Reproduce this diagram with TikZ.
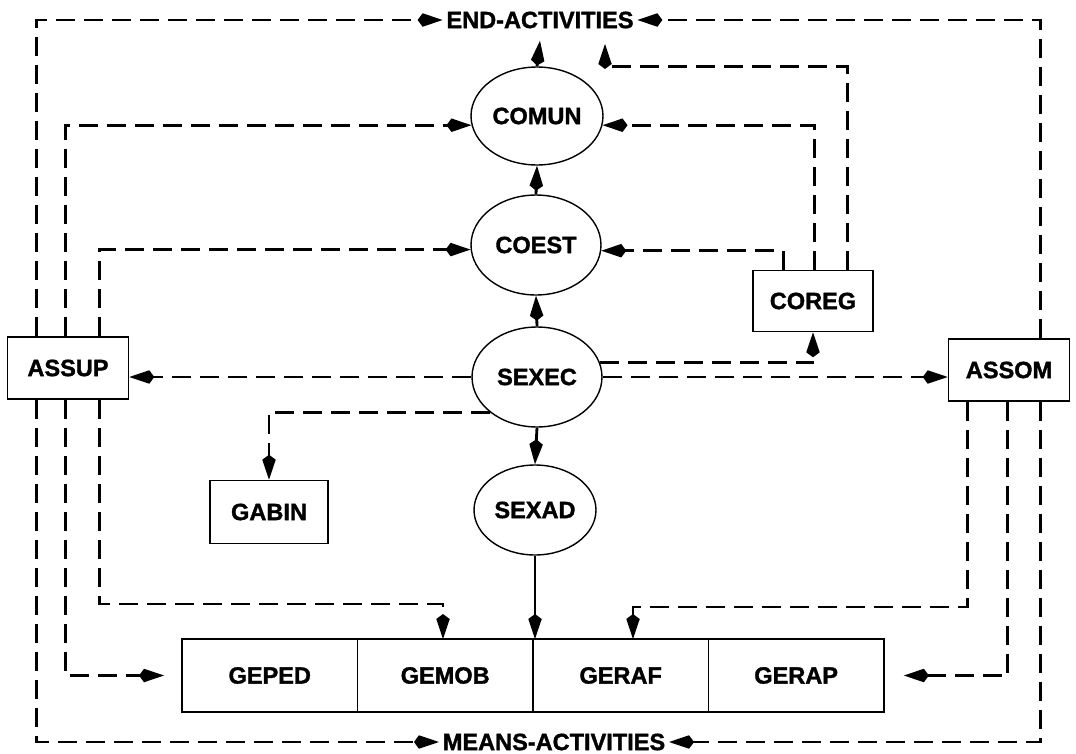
\documentclass[tikz,border=0pt]{standalone}
\usepackage{fontspec}
\setmainfont{Liberation Sans}[BoldFeatures={FakeBold=1.4}]
\usetikzlibrary{shapes.geometric, arrows.meta, positioning}
\tikzset{
  unitnode/.style={ellipse, draw, line width=0.8pt, inner sep=0pt, font=\bfseries\fontsize{13.4}{16}\selectfont},
  unitbox/.style={rectangle, draw, line width=0.9pt, minimum width=2.42cm, minimum height=1.24cm, font=\bfseries\fontsize{13.4}{16}\selectfont},
  rowbox/.style={rectangle, draw, line width=0.9pt, minimum width=3.51cm, minimum height=1.46cm, outer sep=0pt, font=\bfseries\fontsize{13.4}{16}\selectfont},
  levelnode/.style={inner xsep=2pt, inner ysep=0.24cm, font=\bfseries\fontsize{13.4}{16}\selectfont},
  arrow/.style={-{Kite[length=0.5cm, width=0.27cm, inset=0.1cm]}, line width=1.6pt},
  dashedarrow/.style={arrow, dash pattern=on 0.38cm off 0.18cm}
}
\begin{document}
\begin{tikzpicture}[x=0.02cm, y=-0.02cm]
  \useasboundingbox (0,0) rectangle (1076,754);

  \node[levelnode] (endact) at (540,20) {END-ACTIVITIES};
  \node[levelnode, inner ysep=2pt] (meansact) at (554,742) {MEANS-ACTIVITIES};

  \node[unitnode, minimum width=2.64cm, minimum height=1.96cm] (comun) at (537,116) {COMUN};
  \node[unitnode, minimum width=2.6cm, minimum height=2cm] (coest) at (536,245) {COEST};
  \node[unitnode, minimum width=2.6cm, minimum height=2cm] (sexec) at (537,377) {SEXEC};
  \node[unitnode, minimum width=2.44cm, minimum height=1.8cm] (sexad) at (535,510) {SEXAD};

  \node[unitbox, minimum width=2.4cm, minimum height=1.22cm] (coreg) at (813,301) {COREG};
  \node[unitbox] (assup) at (68,368) {ASSUP};
  \node[unitbox] (assom) at (1009,370) {ASSOM};
  \node[unitbox, minimum width=2.36cm, minimum height=1.26cm] (gabin) at (269,512) {GABIN};

  \node[rowbox] (geped) at (269.75,675.5) {GEPED};
  \node[rowbox, right=0pt of geped] (gemob) {GEMOB};
  \node[rowbox, right=0pt of gemob] (geraf) {GERAF};
  \node[rowbox, right=0pt of geraf] (gerap) {GERAP};

  \coordinate (endin) at (605,44);
  \coordinate (gemobin) at (443,604);
  \coordinate (gerafin) at (633,607);

  \draw[arrow] (comun.north) -- (endact.south);
  \draw[arrow] (coest.north) -- (comun.south);
  \draw[arrow] (sexec.north) -- (coest.south);
  \draw[arrow] (sexec.south) -- (sexad.north);
  \draw[arrow] (sexad.south) -- (sexad.south |- gemob.north east);

  \draw[dashedarrow] (assup.north west) ++(30,0) |- (endact.west);
  \draw[dashedarrow] (assup.north west) ++(59,0) |- (comun.188);
  \draw[dashedarrow] (assup.north west) ++(93,0) |- (coest.184);
  \draw[dashedarrow] (assom.north west) ++(93,0) |- (endact.east);

  \draw[dashedarrow] (coreg.north west) ++(95,0) |- (endin |- comun.north) -- (endin);
  \draw[dashedarrow] (coreg.north west) ++(62,0) |- (comun.352);
  \draw[dashedarrow] (coreg.north west) ++(31,0) |- (coest.355);

  \draw[dashedarrow] (sexec.13) -| (coreg.south);
  \draw[dashedarrow] (sexec.east) -- (sexec.east -| assom.west);
  \draw[dashedarrow] (sexec.west) -- (sexec.west -| assup.east);
  \draw[dashedarrow] (sexec.217) -| (gabin.north);

  \draw[dashedarrow] (assup.south west) ++(30,0) |- (meansact.west);
  \draw[dashedarrow, shorten >=0.36cm] (assup.south west) ++(59,0) |- (geped.west);
  \draw[dashedarrow] (assup.south west) ++(93,0) |- (gemobin) -- (gemobin |- gemob.north);

  \draw[dashedarrow] (assom.south west) ++(20,0) |- (gerafin) -- (gerafin |- geraf.north);
  \draw[dashedarrow, shorten >=0.4cm] (assom.south west) ++(60,0) |- (gerap.east);
  \draw[dashedarrow] (assom.south west) ++(93,0) |- (meansact.east);
\end{tikzpicture}
\end{document}
